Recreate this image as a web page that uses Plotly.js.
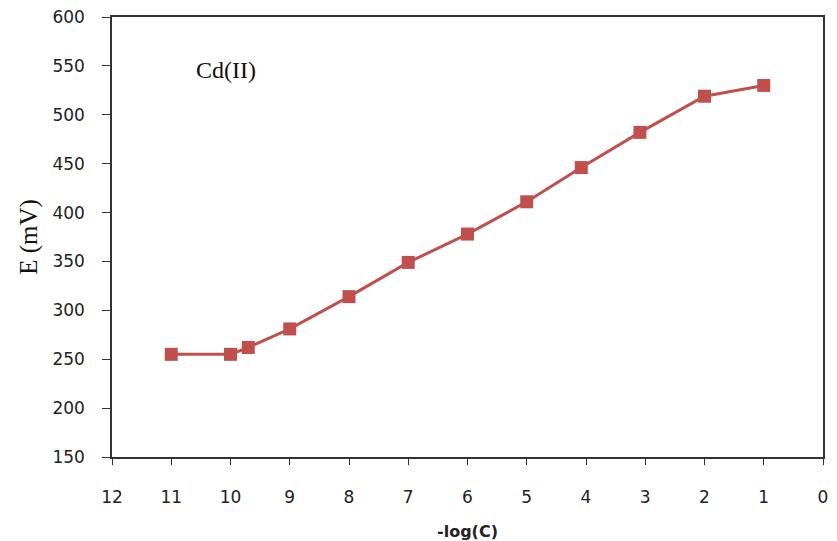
<!DOCTYPE html>
<html><head><meta charset="utf-8">
<script src="https://cdn.plot.ly/plotly-3.0.1.min.js"></script>
<style>body{margin:0;padding:0;background:#fff}#chart{width:837px;height:541px}</style>
</head><body><div id="chart"></div>
<script>
const logC = [11, 10, 9.7, 9, 8, 7, 6, 5, 4.08, 3.09, 2, 1];
const potential = [255, 255, 262, 281, 314, 349, 378, 411, 446, 482, 519, 530];
const xTicks = [12, 11, 10, 9, 8, 7, 6, 5, 4, 3, 2, 1, 0];
const yTicks = [150, 200, 250, 300, 350, 400, 450, 500, 550, 600];
const label = "Cd(II)";

const trace = {
  x: logC, y: potential, type: 'scatter', mode: 'lines+markers',
  line: {color: '#C0504D', width: 3},
  marker: {symbol: 'square', size: 13, color: '#C0504D'},
  showlegend: false
};
const layout = {
  width: 837, height: 541,
  margin: {l: 112, r: 14, t: 17, b: 84},
  paper_bgcolor: '#fff', plot_bgcolor: '#fff',
  xaxis: {
    range: [12, 0], tickvals: xTicks, ticktext: xTicks.map(String),
    showgrid: false, zeroline: false, showline: true, mirror: true,
    linecolor: '#333', linewidth: 1.5, ticks: 'outside', ticklen: 6, tickcolor: '#333',
    ticklabelstandoff: 18,
    tickfont: {family: 'DejaVu Sans', size: 17, color: '#222'},
    title: {text: '<b>-log(C)</b>', font: {family: 'DejaVu Sans', size: 16, color: '#222'}, standoff: 22}
  },
  yaxis: {
    range: [150, 600], tickvals: yTicks,
    showgrid: false, zeroline: false, showline: true, mirror: true,
    linecolor: '#333', linewidth: 1.5, ticks: 'outside', ticklen: 8, tickcolor: '#333',
    ticklabelstandoff: 14,
    tickfont: {family: 'DejaVu Sans', size: 17, color: '#222'},
    title: {text: 'E (mV)', font: {family: 'Liberation Serif', size: 25, color: '#111'}, standoff: 8}
  },
  annotations: [{
    text: label, x: 10.08, y: 546, xref: 'x', yref: 'y', showarrow: false,
    font: {family: 'Liberation Serif', size: 24, color: '#111'}
  }]
};
Plotly.newPlot('chart', [trace], layout, {displayModeBar: false});
</script></body></html>
